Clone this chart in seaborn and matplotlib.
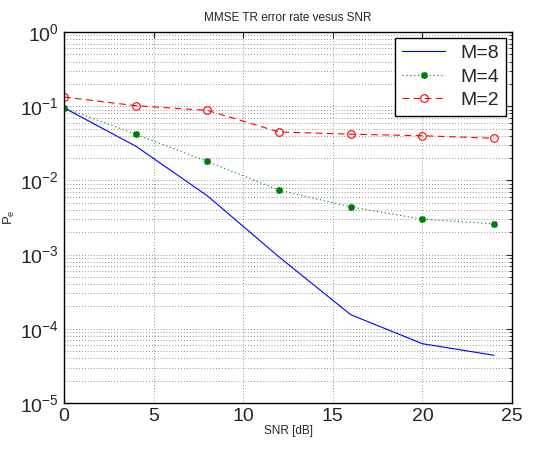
import matplotlib
matplotlib.use("Agg")
import matplotlib.pyplot as plt
import seaborn as sns
import pandas as pd
from matplotlib.ticker import LogLocator, MultipleLocator

snr = [0, 4, 8, 12, 16, 20, 24]
pe_m8 = [0.095, 0.029, 0.0062, 0.00093, 0.000155, 6.3e-5, 4.4e-5]
pe_m4 = [0.095, 0.042, 0.018, 0.0074, 0.0044, 0.0030, 0.0026]
pe_m2 = [0.133, 0.1016, 0.088, 0.045, 0.042, 0.040, 0.037]
labels = ['M=8', 'M=4', 'M=2']

sns.set_style("white")
plt.rcParams['font.family'] = ['Liberation Sans', 'DejaVu Sans']
plt.rcParams['mathtext.fontset'] = 'custom'
plt.rcParams['mathtext.rm'] = 'Liberation Sans'

fig = plt.figure(figsize=(5.49, 4.49), dpi=100)
ax = fig.add_axes([0.1166, 0.1024, 0.816, 0.8263])

df = pd.DataFrame({'SNR': snr * 3,
                   'Pe': pe_m8 + pe_m4 + pe_m2,
                   'M': [labels[0]] * 7 + [labels[1]] * 7 + [labels[2]] * 7})

colors = {'M=8': (0, 0, 1), 'M=4': (0, 0.5, 0), 'M=2': (1, 0, 0)}
lstyles = {'M=8': '-', 'M=4': (0, (1, 2.5)), 'M=2': (0, (6, 4))}
markers = {'M=8': 'None', 'M=4': (8, 2, 0), 'M=2': 'o'}
msizes = {'M=8': 0, 'M=4': 5, 'M=2': 5.5}

for lab in labels:
    sub = df[df['M'] == lab]
    sns.lineplot(data=sub, x='SNR', y='Pe', ax=ax, label=lab, linewidth=0.8,
                 color=colors[lab], linestyle=lstyles[lab])
    line = ax.get_lines()[-1]
    line.set_marker(markers[lab])
    line.set_markersize(msizes[lab])
    line.set_markeredgewidth(1.1 if lab == 'M=4' else 0.8)
    line.set_markeredgecolor(colors[lab])
    line.set_markerfacecolor('none' if lab == 'M=2' else colors[lab])

ax.set_yscale('log')
ax.set_xlim(0, 25)
ax.set_ylim(1e-5, 1)
ax.xaxis.set_major_locator(MultipleLocator(5))
ax.yaxis.set_major_locator(LogLocator(base=10, numticks=10))
ax.yaxis.set_minor_locator(LogLocator(base=10, subs=range(2, 10), numticks=20))

gkw = dict(linestyle=(0, (1, 2.5)), color='0.45', linewidth=0.6)
ax.grid(True, which='major', **gkw)
ax.grid(True, which='minor', axis='y', **gkw)
ax.tick_params(which='both', direction='in', top=True, right=True, labelsize=14)
ax.tick_params(which='major', length=4)
ax.tick_params(which='minor', length=2)
for s in ax.spines.values():
    s.set_color('black')
    s.set_linewidth(1.0)

ax.set_title('MMSE TR error rate vesus SNR', fontsize=8.5, pad=8)
ax.set_xlabel('SNR [dB]', fontsize=8.5, labelpad=0)
ax.set_ylabel(r'P$_\mathregular{e}$', fontsize=9.5, labelpad=2)

leg = ax.legend(loc='upper right', fontsize=14, frameon=True, fancybox=False,
                borderaxespad=0.3, handlelength=2.2, labelspacing=0.3,
                borderpad=0.35)
leg.get_frame().set_edgecolor('black')
leg.get_frame().set_linewidth(1.0)
leg.get_frame().set_alpha(1)

fig.savefig('out.png', dpi=100)
